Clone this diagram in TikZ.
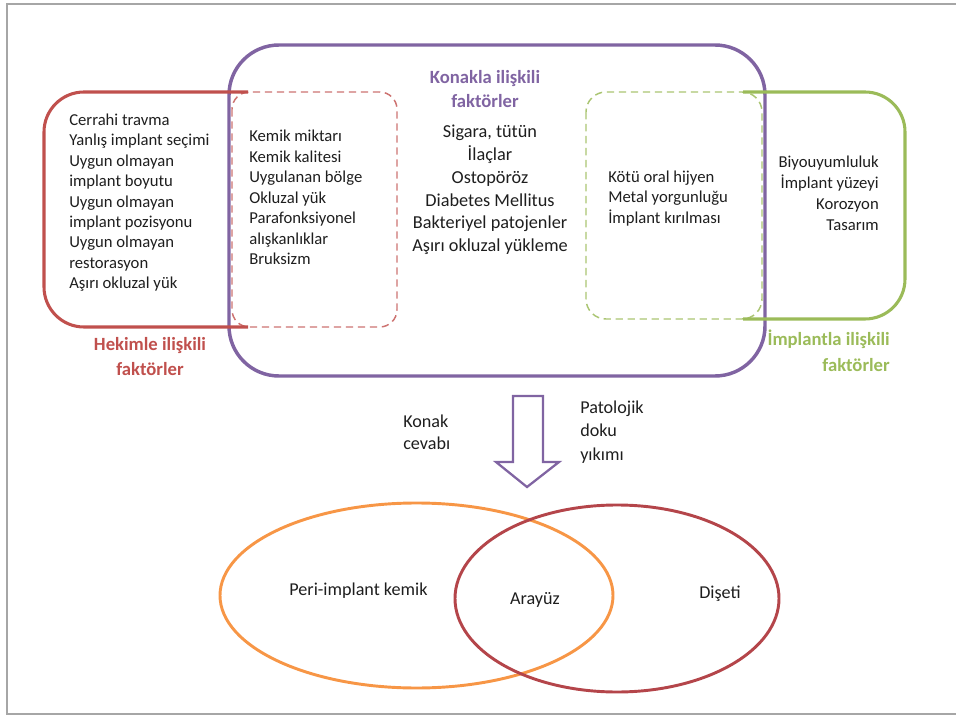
\documentclass[tikz,border=0pt]{standalone}
\usepackage{fontspec}
\setmainfont{Carlito}
\definecolor{kpurple}{HTML}{8064A2}
\definecolor{kred}{HTML}{C0504D}
\definecolor{kgreen}{HTML}{9BBB59}
\definecolor{korange}{HTML}{F79646}
\definecolor{kdred}{HTML}{B4454A}
\definecolor{kgray}{HTML}{A6A6A6}
\definecolor{ktext}{HTML}{1E1E1E}
\begin{document}
\begin{tikzpicture}[x=0.75pt,y=-0.75pt,
  smalltxt/.style={font=\fontsize{12.5}{15}\selectfont, inner sep=0pt, text=ktext},
  midtxt/.style={font=\fontsize{13.7}{17}\selectfont, inner sep=0pt, text=ktext},
  lowtxt/.style={font=\fontsize{13.6}{17}\selectfont, inner sep=0pt, text=ktext},
  boldlab/.style={font=\fontsize{14}{18}\selectfont\bfseries, inner sep=0pt},
  solidline/.style={line width=2.3pt},
  dashline/.style={line width=1.1pt, dash pattern=on 5.5pt off 3.5pt}]
\useasboundingbox (0,0) rectangle (956,716);
% outer frame
\draw[kgray, line width=1.5pt] (956,4) -- (7,4) -- (7,714) -- (956,714);

% host factors (purple)
\draw[kpurple, line width=2.6pt, rounded corners=37.5pt] (229,45) rectangle (765,376);

% physician factors (red)
\draw[kred!80, dashline, rounded corners=13pt] (232,92) rectangle (397,327);
\draw[kred, solidline, rounded corners=30pt] (248,92) -- (44,92) -- (44,327) -- (248,327);

% implant factors (green)
\draw[kgreen!85, dashline, rounded corners=15pt] (586,92) rectangle (762,319);
\draw[kgreen, solidline, rounded corners=30pt] (743,92) -- (905,92) -- (905,319) -- (743,319);

% titles
\node[boldlab, text=kpurple, anchor=base] (kon1) at (485,84) {Konakla ilişkili};
\node[boldlab, text=kpurple, anchor=base] (kon2) at (485,108) {faktörler};
\node[boldlab, text=kred, anchor=base] (hek1) at (150,351) {Hekimle ilişkili};
\node[boldlab, text=kred, anchor=base] (hek2) at (150,375) {faktörler};
\node[boldlab, text=kgreen, anchor=base east] (imp1) at (890,345) {İmplantla ilişkili};
\node[boldlab, text=kgreen, anchor=base east] (imp2) at (890,371) {faktörler};

% lists
\foreach \t [count=\i] in {Cerrahi travma, Yanlış implant seçimi, Uygun olmayan, implant boyutu, Uygun olmayan, implant pozisyonu, Uygun olmayan, restorasyon, Aşırı okluzal yük}
  \node[smalltxt, anchor=base west] (hl\i) at (69,{125.5+20.4*(\i-1)}) {\t};
\foreach \t [count=\i] in {Kemik miktarı, Kemik kalitesi, Uygulanan bölge, Okluzal yük, Parafonksiyonel, alışkanlıklar, Bruksizm}
  \node[smalltxt, anchor=base west] (ol\i) at (249,{141.5+20.55*(\i-1)}) {\t};
\foreach \t [count=\i] in {{Sigara, tütün}, İlaçlar, Ostopöröz, Diabetes Mellitus, Bakteriyel patojenler, Aşırı okluzal yükleme}
  \node[midtxt, anchor=base] (kl\i) at (490,{138+22.7*(\i-1)}) {\t};
\foreach \t [count=\i] in {Kötü oral hijyen, Metal yorgunluğu, İmplant kırılması}
  \node[smalltxt, anchor=base west] (il\i) at (608,{182.5+20.5*(\i-1)}) {\t};
\foreach \t [count=\i] in {Biyouyumluluk, İmplant yüzeyi, Korozyon, Tasarım}
  \node[smalltxt, anchor=base east] (gl\i) at (879,{167.5+21*(\i-1)}) {\t};

% arrow
\draw[kpurple, line width=1.7pt, line join=miter]
  (513,396) -- (543,396) -- (543,462) -- (559,462) -- (527,487) -- (496,462) -- (513,462) -- cycle;
\node[lowtxt, anchor=base west] (kc1) at (403,427) {Konak};
\node[lowtxt, anchor=base west] (kc2) at (403,449) {cevabı};
\node[lowtxt, anchor=base west] (pd1) at (580,413) {Patolojik};
\node[lowtxt, anchor=base west] (pd2) at (580,436.5) {doku};
\node[lowtxt, anchor=base west] (pd3) at (580,460) {yıkımı};

% ellipses
\draw[korange, line width=2.2pt] (416.5,595.5) ellipse [x radius=196.5, y radius=92.5];
\draw[kdred, line width=2.2pt] (617,598.5) ellipse [x radius=162, y radius=93.5];
\node[lowtxt, anchor=base] (pk) at (358.5,595) {Peri-implant kemik};
\node[lowtxt, anchor=base] (ay) at (535,604) {Arayüz};
\node[lowtxt, anchor=base] (ds) at (720,598) {Dişeti};
\end{tikzpicture}
\end{document}
